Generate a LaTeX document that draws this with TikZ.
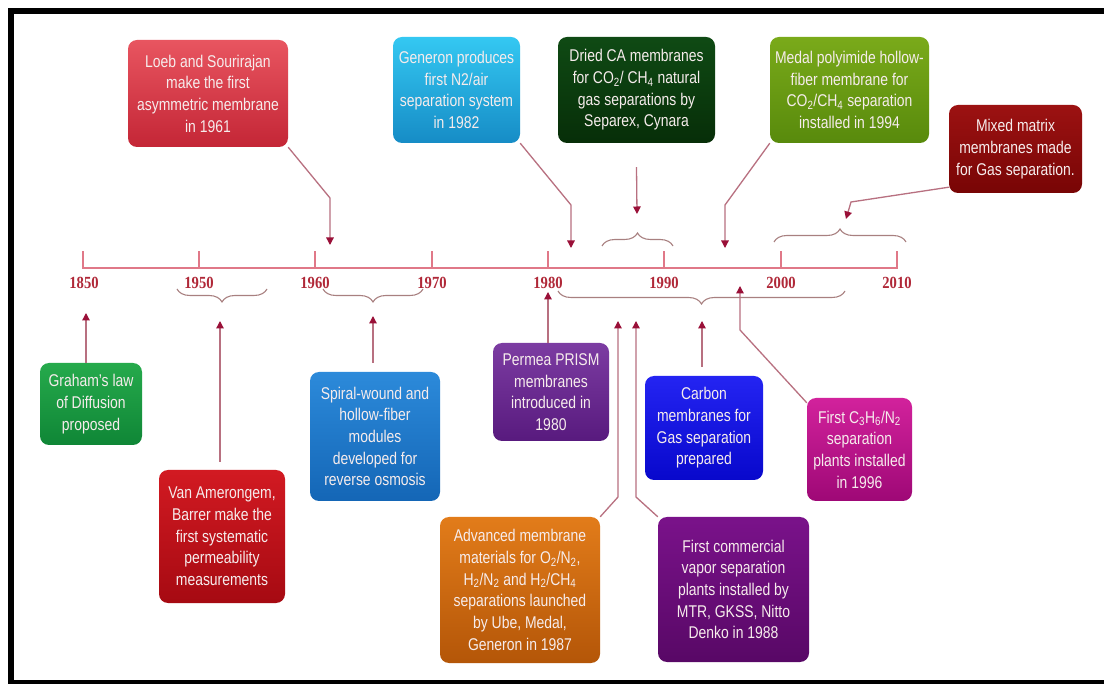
\documentclass[tikz,border=0pt]{standalone}
\usepackage{fontspec}
\setmainfont{Liberation Sans}[FakeStretch=0.82]
\newfontfamily\yearfont{Liberation Serif}[FakeStretch=0.86]
\usetikzlibrary{arrows.meta,decorations.pathreplacing,shadings}
\definecolor{tlc}{HTML}{E07888}
\definecolor{yearc}{HTML}{B02838}
\definecolor{connc}{HTML}{B87080}
\definecolor{tipc}{HTML}{9A1038}
\definecolor{bracec}{HTML}{A88080}
\definecolor{boxtext}{HTML}{F6ECEC}
\definecolor{loebT}{HTML}{E85560}\definecolor{loebB}{HTML}{C42636}
\definecolor{genT}{HTML}{34C8F2}\definecolor{genB}{HTML}{168CC6}
\definecolor{driedT}{HTML}{0F4A14}\definecolor{driedB}{HTML}{072E08}
\definecolor{medalT}{HTML}{7AAA1A}\definecolor{medalB}{HTML}{588A0C}
\definecolor{mixedT}{HTML}{9C1212}\definecolor{mixedB}{HTML}{780505}
\definecolor{grahamT}{HTML}{26AA4C}\definecolor{grahamB}{HTML}{0F8636}
\definecolor{vanT}{HTML}{D21A22}\definecolor{vanB}{HTML}{A60A12}
\definecolor{spiralT}{HTML}{2C8ADA}\definecolor{spiralB}{HTML}{1466B6}
\definecolor{permeaT}{HTML}{7C3CA2}\definecolor{permeaB}{HTML}{581A7E}
\definecolor{carbonT}{HTML}{2424F2}\definecolor{carbonB}{HTML}{0808CC}
\definecolor{advT}{HTML}{E27C1A}\definecolor{advB}{HTML}{B45608}
\definecolor{fcT}{HTML}{7A128A}\definecolor{fcB}{HTML}{580866}
\definecolor{cthT}{HTML}{D2229C}\definecolor{cthB}{HTML}{9E0876}
\tikzset{
  box/.style={rounded corners=9pt, inner sep=0pt, align=center, text=boxtext,
    font=\fontsize{17}{21.7}\selectfont},
  grad/.style={top color=#1T, bottom color=#1B},
  tl/.style={draw=tlc, line width=2.4pt},
  year/.style={text=yearc, font=\yearfont\bfseries\fontsize{17}{17}\selectfont, inner sep=0pt},
  conn/.style={draw=connc, line width=1.3pt, -{Triangle[length=7.5pt,width=7.5pt,color=tipc]}},
  braceup/.style={draw=bracec, line width=1.1pt, decorate, decoration={brace, amplitude=13pt}},
  bracedown/.style={draw=bracec, line width=1.1pt, decorate, decoration={brace, mirror, amplitude=13pt}},
}
\begin{document}
\begin{tikzpicture}[x=1pt,y=-1pt]
\useasboundingbox (0,0) rectangle (1104,684);
\fill[white] (0,0) rectangle (1104,684);
% frame
\draw[line width=6pt] (11,690) -- (11,11) -- (1110,11);
\draw[line width=6pt] (8,683) -- (1110,683);

% timeline
\draw[tl] (83,268) -- (897,268);
\foreach \x in {83,199,315,432,548,664,781,897} \draw[tl] (\x,269) -- (\x,251);
\node[year] (y1850) at (84,283) {1850};
\node[year] (y1950) at (199,283) {1950};
\node[year] (y1960) at (315,283) {1960};
\node[year] (y1970) at (432,283) {1970};
\node[year] (y1980) at (548,283) {1980};
\node[year] (y1990) at (664,283) {1990};
\node[year] (y2000) at (781,283) {2000};
\node[year] (y2010) at (897,283) {2010};

% braces
\draw[bracedown] (177,289) -- (267,289);
\draw[bracedown] (323,289) -- (423,289);
\draw[bracedown] (558,291) -- (845,291);
\draw[braceup] (602,246) -- (673,246);
\draw[braceup] (774,242) -- (906,242);

% top boxes
\node[box, grad=loeb, minimum width=160pt, minimum height=107pt] (loeb) at (208,93.5)
  {Loeb and Sourirajan\\make the first\\asymmetric membrane\\in 1961};
\node[box, grad=gen, minimum width=127pt, minimum height=106pt] (gen) at (456.5,90)
  {Generon produces\\first N2/air\\separation system\\in 1982};
\node[box, grad=dried, minimum width=157pt, minimum height=106pt] (dried) at (636.5,90)
  {Dried CA membranes\\for CO\textsubscript{2}/ CH\textsubscript{4} natural\\gas separations by\\Separex, Cynara};
\node[box, grad=medal, minimum width=159pt, minimum height=106pt] (medal) at (849.5,90)
  {Medal polyimide hollow-\\fiber membrane for\\CO\textsubscript{2}/CH\textsubscript{4} separation\\installed in 1994};
\node[box, grad=mixed, minimum width=133pt, minimum height=88pt] (mixed) at (1015.5,149)
  {Mixed matrix\\membranes made\\for Gas separation.};

% bottom boxes
\node[box, grad=graham, minimum width=102pt, minimum height=82pt] (graham) at (91,404)
  {Graham's law\\of Diffusion\\proposed};
\node[box, grad=van, minimum width=126pt, minimum height=133pt] (van) at (222,536.5)
  {Van Amerongem,\\Barrer make the\\first systematic\\permeability\\measurements};
\node[box, grad=spiral, minimum width=130pt, minimum height=129pt] (spiral) at (375,436.5)
  {Spiral-wound and\\hollow-fiber\\modules\\developed for\\reverse osmosis};
\node[box, grad=permea, minimum width=116pt, minimum height=98pt] (permea) at (551,392)
  {Permea PRISM\\membranes\\introduced in\\1980};
\node[box, grad=carbon, minimum width=118pt, minimum height=104pt] (carbon) at (704,428)
  {Carbon\\membranes for\\Gas separation\\prepared};
\node[box, grad=adv, minimum width=160pt, minimum height=146pt] (adv) at (520,590)
  {Advanced membrane\\materials for O\textsubscript{2}/N\textsubscript{2},\\H\textsubscript{2}/N\textsubscript{2} and H\textsubscript{2}/CH\textsubscript{4}\\separations launched\\by Ube, Medal,\\Generon in 1987};
\node[box, grad=fc, minimum width=151pt, minimum height=145pt] (firstcom) at (733.5,589.5)
  {First commercial\\vapor separation\\plants installed by\\MTR, GKSS, Nitto\\Denko in 1988};
\node[box, grad=cth, minimum width=105pt, minimum height=103pt] (c3) at (859.5,449.5)
  {First C\textsubscript{3}H\textsubscript{6}/N\textsubscript{2}\\separation\\plants installed\\in 1996};

% connectors (top)
\coordinate (l1) at (330,198); \coordinate (l2) at (330,245);
\draw[conn] (loeb.south east) -- (l1) -- (l2);
\coordinate (g1) at (571,205); \coordinate (g2) at (571,248);
\draw[conn] (gen.south east) -- (g1) -- (g2);
\coordinate (d2) at (637,214);
\draw[conn] ([yshift=-24pt]dried.south) -- (d2);
\coordinate (m1) at (725,205); \coordinate (m2) at (725,248);
\draw[conn] (medal.south west) -- (m1) -- (m2);
\coordinate (x1) at (851,202); \coordinate (x2) at (846,219);
\draw[conn] ([yshift=6pt]mixed.south west) -- (x1) -- (x2);

% connectors (bottom)
\coordinate (ga) at (86,313);
\draw[conn] (graham.north -| ga) -- (ga);
\coordinate (va) at (220,321);
\draw[conn] ([yshift=8pt]van.north -| va) -- (va);
\coordinate (sa) at (373,316);
\draw[conn] ([yshift=9pt]spiral.north -| sa) -- (sa);
\coordinate (pa) at (548,292);
\draw[conn] (permea.north -| pa) -- (pa);
\coordinate (ca) at (702,321);
\draw[conn] ([yshift=9pt]carbon.north -| ca) -- (ca);
\coordinate (a1) at (618,497); \coordinate (a2) at (618,321);
\draw[conn] (adv.north east) -- (a1) -- (a2);
\coordinate (f1) at (636,497); \coordinate (f2) at (636,321);
\draw[conn] (firstcom.north west) -- (f1) -- (f2);
\coordinate (c1) at (740,330); \coordinate (c2) at (740,286);
\draw[conn] ([yshift=-5pt]c3.north west) -- (c1) -- (c2);
\end{tikzpicture}
\end{document}
